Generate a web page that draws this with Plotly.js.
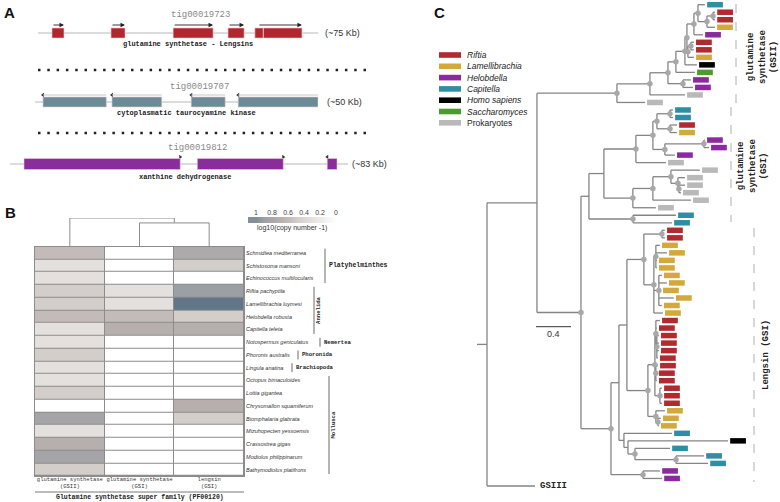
<!DOCTYPE html>
<html><head><meta charset="utf-8">
<script src="https://cdn.plot.ly/plotly-3.0.1.min.js"></script>
<style>html,body{margin:0;padding:0;background:#fff}#chart{width:780px;height:502px}</style>
</head><body><div id="chart"></div>
<script>
// ---------------- Panel A data (positions along contig, kb) ----------------
const contigNames = ['tig00019723', 'tig00019707', 'tig00019812'];
const contigGenes = ['glutamine synthetase - Lengsins', 'cytoplasmatic taurocyamine kinase', 'xanthine dehydrogenase'];
const contigLengthKb = [75, 50, 83];
const contigSizeLabels = ['(~75 Kb)', '(~50 Kb)', '(~83 Kb)'];
const exonStart1 = [3.75, 19.56, 36.2, 50.9, 58.1, 60.4];
const exonEnd1   = [6.96, 23.3, 46.9, 55.2, 60.3, 70.7];
const arrowStart1 = [3.75, 19.56, 36.2, 50.9, 58.9];
const arrowEnd1   = [6.96, 23.3, 46.9, 55.2, 70.7];
const exonStart2 = [1.41, 13.6, 27.6, 35.9];
const exonEnd2   = [12.6, 22.4, 33.6, 50.0];
const exonStart3 = [3.44, 46.0, 77.9];
const exonEnd3   = [41.8, 67.1, 80.3];

// ---------------- Panel B data ----------------
const species = ['Schmidtea mediterranea', 'Schistosoma mansoni', 'Echinococcus multilocularis',
  'Riftia pachyptila', 'Lamellibrachia luymesi', 'Helobdella robusta', 'Capitella teleta',
  'Notospermus geniculatus', 'Phoronis australis', 'Lingula anatina', 'Octopus bimaculoides',
  'Lottia gigantea', 'Chrysomallon squamiferum', 'Biomphalaria glabrata', 'Mizuhopecten yessoensis',
  'Crassostrea gigas', 'Modiolus philippinarum', 'Bathymodiolus platifrons'];
const hmColumns = ['glutamine synthetase<br>(GSII)', 'glutamine synthetase<br>(GSI)', 'lengsin<br>(GSI)'];
const valGSII    = [0.602, 0.301, 0.301, 0.477, 0.477, 0.602, 0.301, 0.301, 0.477, 0.301, 0.301, 0.477, 0, 0.845, 0.301, 0.699, 0.845, 0.477];
const valGSI     = [0, 0, 0, 0.301, 0.301, 0.602, 0.699, 0, 0, 0, 0, 0, 0, 0, 0, 0, 0, 0];
const valLengsin = [0.778, 0.477, 0, 0.903, 1.146, 0.477, 0.699, 0, 0, 0, 0, 0, 0.699, 0.477, 0, 0, 0, 0];
const colorMax = 1.146;
const colorbarTicks = [1, 0.8, 0.6, 0.4, 0.2, 0];
const dendroHeights = [0.83, 1.0];   // merge (GSI, lengsin), then with GSII
const phylumNames = ['Platyhelminthes', 'Annelida', 'Nemertea', 'Phoronida', 'Brachiopoda', 'Mollusca'];
const phylumFirst = [0, 3, 7, 8, 9, 10];
const phylumLast  = [2, 6, 7, 8, 9, 17];

// ---------------- Panel C data (Newick, * = supported node) ----------------
const legendNames = ['Riftia', 'Lamellibrachia', 'Helobdella', 'Capitella', 'Homo sapiens', 'Saccharomyces', 'Prokaryotes'];
const legendCodes = ['R', 'L', 'H', 'C', 'S', 'Y', 'P'];
const legendColors = ['#b02a30', '#d3a93b', '#8b2a9f', '#2f8ea3', '#000000', '#4e9a31', '#b9b9b9'];
const gsiiTree = "((((((((C:0.08,((R:0.023,R:0.023)*:0.069,L:0.091)*:0.103)*:0.046,H:0.103)*:0.08,((R:0.034,R:0.034)*:0.034,L:0.069)*:0.011)*:0.023,S:0.137)*:0.103,Y:0.217)*:0.091,(H:0.091,H:0.114)*:0.171)*:0.206,P:0.4)*:0.377,P:0.32)*";
const gsiTree = "((((((C:0.034,C:0.034)*:0.149,(R:0.08,L:0.08)*:0.149)*:0.046,((H:0.011,H:0.057)*:0.446,H:0.114)*:0.137)*:0.194,P:0.343)*:0.366,(((P:0.331,(P:0.08,(P:0.069,P:0.023)*:0.011)*:0.08)*:0.206,P:0.434)*:0.229,P:0.263)*:0.331):0.171,(C:0.491,C:0.446)*:0.503)";
const lengsinTree = "(((((R:0.034,R:0.034)*:0.206,((L:0.046,L:0.126,L:0.011,L:0.011)*:0.023,(L:0.034,L:0.091,L:0.023,L:0.171,L:0.034)*:0.057,L:0.103)*:0.114)*:0.194,(((R:0.046,R:0.011,(R:0.023,R:0.023,R:0.023,R:0.011)*:0.011)*:0.011,(R:0.023,R:0.011,R:0.011)*:0.011,(R:0.023,R:0.023,R:0.023)*:0.057)*:0.08,(L:0.103,(L:0.034,L:0.011)*:0.023)*:0.091)*:0.24):0.091,(C:0.549,(S:1.143,(C:0.4,(C:0.32,C:0.366)*:0.469)*:0.08):0.046):0.057):0.091,(H:0.194,H:0.217)*:0.366)*";
const backboneTree = "((#1:0.914,(#2:0.091,#3:0.343)*:0.503):0.571,G:0.549):0.114";
const scaleBarValue = 0.4;
const cladeLabels = ['glutamine<br>synthetase<br>(GSII)', 'glutamine<br>synthetase<br>(GSI)', 'Lengsin (GSI)'];

// ---------------- helpers ----------------
const W = 780, H = 502;
const P = x => x / W, Q = y => 1 - y / H;
const shapes = [], annotations = [], traces = [];
const MONO = 'Liberation Mono', SANS = 'Liberation Sans';
function txt(text, x, y, size, o) {
  o = o || {};
  annotations.push({text: text, x: P(x), y: Q(y), xref: 'paper', yref: 'paper', showarrow: false,
    font: {size: size, family: o.family || SANS, color: o.color || '#222'},
    xanchor: o.xa || 'center', yanchor: 'middle', textangle: o.angle || 0});
}
function pline(x0, y0, x1, y1, color, width, dash) {
  shapes.push({type: 'line', xref: 'paper', yref: 'paper', x0: P(x0), y0: Q(y0), x1: P(x1), y1: Q(y1),
    line: {color: color, width: width, dash: dash || 'solid'}});
}

// ---------------- Panel A ----------------
const trackAxes = ['x', 'x2', 'x3'];
const trackY = [33, 102, 164], exonTop = [28, 97, 158.5], exonBot = [38, 107, 169.5];
const exonColors = ['#b0282e', '#6b8b96', '#8a2c9c'];
const exonStarts = [exonStart1, exonStart2, exonStart3], exonEnds = [exonEnd1, exonEnd2, exonEnd3];
const nameXY = [[201, 15], [199, 87], [197, 148]], geneXY = [[188, 44], [186, 113], [185, 177]];
const kbX = [323, 325, 350];
for (let c = 0; c < 3; c++) {
  shapes.push({type: 'line', xref: trackAxes[c], yref: 'y', x0: 0, x1: contigLengthKb[c], y0: trackY[c], y1: trackY[c],
    line: {color: '#b8b8b8', width: 1}, layer: 'below'});
  exonStarts[c].forEach((s, i) => shapes.push({type: 'rect', xref: trackAxes[c], yref: 'y', x0: s, x1: exonEnds[c][i],
    y0: exonTop[c], y1: exonBot[c], fillcolor: exonColors[c], line: {width: 0.6, color: '#e6c9cc'}}));
  txt(contigNames[c], nameXY[c][0], nameXY[c][1], 9, {family: MONO, color: '#8a8a8a'});
  txt('<b>' + contigGenes[c] + '</b>', geneXY[c][0], geneXY[c][1], 7, {family: MONO, color: '#222'});
  txt(contigSizeLabels[c], kbX[c], trackY[c], 9, {xa: 'left', color: '#333'});
}
arrowStart1.forEach((s, i) => annotations.push({x: arrowEnd1[i], y: 25, ax: s, ay: 25, xref: 'x', yref: 'y', axref: 'x', ayref: 'y',
  text: '', showarrow: true, arrowhead: 2, arrowsize: 1, arrowwidth: 0.9, arrowcolor: '#222'}));
exonStart2.forEach((s, i) => shapes.push({type: 'line', xref: 'x2', yref: 'y', x0: s, x1: exonEnd2[i], y0: 95, y1: 95,
  line: {color: '#c8c8c8', width: 1.2}}));
traces.push({type: 'scatter', mode: 'markers', xaxis: 'x2', yaxis: 'y', x: exonStart2, y: exonStart2.map(() => 95),
  marker: {symbol: 'triangle-left', size: 4, color: '#333'}, hoverinfo: 'skip', showlegend: false});
traces.push({type: 'scatter', mode: 'markers', xaxis: 'x3', yaxis: 'y', x: [exonEnd3[0], exonEnd3[1], exonStart3[2]],
  y: [157, 157, 157], marker: {symbol: ['triangle-right', 'triangle-right', 'triangle-left'], size: 4, color: '#333'},
  hoverinfo: 'skip', showlegend: false});
pline(38, 70, 368, 70, '#222', 2.5, '2.5px,6.8px');
pline(38, 133, 368, 133, '#222', 2.5, '2.5px,6.8px');

// ---------------- Panel B ----------------
const hmScale = [[0, '#ffffff'], [0.263, '#e4e0de'], [0.416, '#d4cecb'], [0.525, '#c3bbb9'], [0.61, '#b7afad'],
  [0.737, '#a5a5a9'], [0.788, '#9ba0a5'], [1, '#627689']];
traces.push({type: 'heatmap', x: hmColumns, y: species, z: species.map((s, i) => [valGSII[i], valGSI[i], valLengsin[i]]),
  xaxis: 'x4', yaxis: 'y4', zmin: 0, zmax: colorMax, showscale: false, xgap: 1, ygap: 1, hoverinfo: 'skip',
  colorscale: hmScale});
shapes.push({type: 'rect', xref: 'x4 domain', yref: 'y4 domain', x0: 0, x1: 1, y0: 0, y1: 1, fillcolor: '#8c8c8c',
  line: {width: 0}, layer: 'below'});
// colour key
traces.push({type: 'heatmap', x: colorbarTicks, y: [0, 1], z: [colorbarTicks, colorbarTicks], xaxis: 'x7', yaxis: 'y7',
  zmin: 0, zmax: colorMax, zsmooth: 'best', showscale: false, hoverinfo: 'skip', colorscale: hmScale});
txt('log10(copy number -1)', 292, 228, 7, {color: '#333'});
// dendrogram
traces.push({type: 'scatter', mode: 'lines', xaxis: 'x5', yaxis: 'y5',
  x: [1, 1, 2, 2, null, 0, 0, 1.5, 1.5],
  y: [0, dendroHeights[0], dendroHeights[0], 0, null, 0, dendroHeights[1], dendroHeights[1], dendroHeights[0]],
  line: {color: '#8c8c8c', width: 1}, hoverinfo: 'skip', showlegend: false});
// phylum brackets
const phylumLineX = [325, 314, 320, 298, 292, 329];
phylumNames.forEach((n, i) => {
  shapes.push({type: 'line', xref: 'paper', yref: 'y4', x0: P(phylumLineX[i]), x1: P(phylumLineX[i]),
    y0: phylumFirst[i] - 0.35, y1: phylumLast[i] + 0.35, line: {color: '#444', width: 0.8}});
  const rot = (phylumLast[i] - phylumFirst[i]) > 2;
  annotations.push({text: '<b>' + n + '</b>', xref: 'paper', yref: 'y4', x: P(phylumLineX[i] + (rot ? 4.5 : 1.5)),
    y: (phylumFirst[i] + phylumLast[i]) / 2, showarrow: false, textangle: rot ? -90 : 0,
    xanchor: rot ? 'center' : 'left', yanchor: 'middle',
    font: {family: MONO, size: n === 'Platyhelminthes' ? 6.5 : 5.6, color: '#222'}});
});
pline(35, 492, 244, 492, '#555', 0.8);
txt('<b>Glutamine synthetase super family (PF00120)</b>', 139.5, 497.5, 6.5, {family: MONO});

// ---------------- Panel C: tree ----------------
function parseNewick(s) {
  let i = 0;
  function node() {
    const n = {children: [], label: '', len: 0};
    if (s[i] === '(') {
      i++; n.children.push(node());
      while (s[i] === ',') { i++; n.children.push(node()); }
      i++;
    }
    let lab = '';
    while (i < s.length && ':,()'.indexOf(s[i]) < 0) { lab += s[i]; i++; }
    n.label = lab;
    if (s[i] === ':') {
      i++; let num = '';
      while (i < s.length && ',()'.indexOf(s[i]) < 0) { num += s[i]; i++; }
      n.len = parseFloat(num);
    }
    return n;
  }
  return node();
}
const fullTree = backboneTree.replace('#1', gsiiTree).replace('#2', gsiTree).replace('#3', lengsinTree);
const root = parseNewick(fullTree);
let leafCounter = 0;
function layoutTree(n, x) {
  n.x = x;
  if (!n.children.length) { n.y = leafCounter++; return; }
  n.children.forEach(c => layoutTree(c, x + c.len));
  n.y = (n.children[0].y + n.children[n.children.length - 1].y) / 2;
}
layoutTree(root, 0);
const bx = [-root.len, 0, null], by = [root.y, root.y, null], dotX = [], dotY = [], leaves = [];
function collect(n) {
  if (!n.children.length) { leaves.push(n); return; }
  const f = n.children[0], l = n.children[n.children.length - 1];
  bx.push(n.x, n.x, null); by.push(f.y, l.y, null);
  n.children.forEach(c => { bx.push(n.x, c.x, null); by.push(c.y, c.y, null); collect(c); });
  if (n.label === '*') { dotX.push(n.x); dotY.push(n.y); }
}
collect(root);
traces.push({type: 'scatter', mode: 'lines', xaxis: 'x6', yaxis: 'y6', x: bx, y: by,
  line: {color: '#858585', width: 1.3}, hoverinfo: 'skip', showlegend: false});
const barGap = 0.025, barLen = 0.18;
legendCodes.forEach((code, k) => {
  const xs = [], ys = [];
  leaves.filter(l => l.label === code).forEach(l => { xs.push(l.x + barGap, l.x + barGap + barLen, null); ys.push(l.y, l.y, null); });
  traces.push({type: 'scatter', mode: 'lines', xaxis: 'x6', yaxis: 'y6', x: xs, y: ys,
    line: {color: legendColors[k], width: 5.5}, hoverinfo: 'skip', showlegend: false});
});
traces.push({type: 'scatter', mode: 'markers', xaxis: 'x6', yaxis: 'y6', x: dotX, y: dotY,
  marker: {color: '#a8a8a8', size: 5.5}, hoverinfo: 'skip', showlegend: false});
leaves.filter(l => l.label === 'G').forEach(l => annotations.push({text: '<b>GSIII</b>', xref: 'x6', yref: 'y6', x: l.x, y: l.y,
  xanchor: 'left', yanchor: 'middle', xshift: 3, showarrow: false, font: {family: MONO, size: 9, color: '#222'}}));
// scale bar
shapes.push({type: 'line', xref: 'x6', yref: 'paper', x0: 0.56, x1: 0.56 + scaleBarValue, y0: Q(326.7), y1: Q(326.7),
  line: {color: '#333', width: 1}});
annotations.push({text: String(scaleBarValue), xref: 'x6', yref: 'paper', x: 0.56 + scaleBarValue / 2, y: Q(334),
  showarrow: false, font: {family: SANS, size: 9, color: '#333'}, yanchor: 'middle'});
// legend
legendNames.forEach((n, i) => {
  const y = 55 + i * 11.3;
  shapes.push({type: 'rect', xref: 'paper', yref: 'paper', x0: P(439), x1: P(461), y0: Q(y - 2.8), y1: Q(y + 2.8),
    fillcolor: legendColors[i], line: {width: 0}});
  txt(n === 'Prokaryotes' ? n : '<i>' + n + '</i>', 465, y, 8.5, {xa: 'left', color: '#222'});
});
// clade brackets
pline(736, 4, 736, 104, '#b0b0b0', 1, 'dash');
pline(731, 107, 731, 222, '#b0b0b0', 1, 'dash');
pline(754, 228, 754, 482, '#b0b0b0', 1, 'dash');
txt('<b>' + cladeLabels[0] + '</b>', 762, 57, 9, {family: MONO, angle: -90});
txt('<b>' + cladeLabels[1] + '</b>', 753, 166, 9, {family: MONO, angle: -90});
txt('<b>' + cladeLabels[2] + '</b>', 766, 355, 9, {family: MONO, angle: -90});

// panel letters
txt('<b>A</b>', 9, 13, 15, {color: '#111'});
txt('<b>B</b>', 10.5, 212, 15, {color: '#111'});
txt('<b>C</b>', 439, 12.5, 15, {color: '#111'});

// ---------------- layout ----------------
const hid = {showgrid: false, zeroline: false, showticklabels: false, ticks: '', showline: false, fixedrange: true, automargin: false};
const layout = {
  width: W, height: H, margin: {l: 0, r: 0, t: 0, b: 0}, paper_bgcolor: '#fff', plot_bgcolor: 'rgba(0,0,0,0)',
  showlegend: false, font: {family: SANS},
  xaxis:  Object.assign({}, hid, {domain: [P(38), P(318)], range: [0, contigLengthKb[0]], anchor: 'y'}),
  xaxis2: Object.assign({}, hid, {domain: [P(35), P(318)], range: [0, contigLengthKb[1]], anchor: 'y'}),
  xaxis3: Object.assign({}, hid, {domain: [P(10), P(348)], range: [0, contigLengthKb[2]], anchor: 'y'}),
  yaxis:  Object.assign({}, hid, {domain: [0, 1], range: [H, 0], anchor: 'x'}),
  xaxis4: Object.assign({}, hid, {domain: [P(35), P(244)], anchor: 'y4', showticklabels: true, side: 'bottom',
    ticklabelstandoff: -3,
    tickfont: {family: MONO, size: 5.5, color: '#333'}, showline: true, mirror: true, linecolor: '#8c8c8c', linewidth: 1}),
  yaxis4: Object.assign({}, hid, {domain: [Q(476), Q(246.7)], anchor: 'x4', range: [17.5, -0.5], showticklabels: true, side: 'right',
    tickfont: {family: SANS, size: 5.5, color: '#333', style: 'italic'}, showline: true, mirror: true, linecolor: '#8c8c8c', linewidth: 1}),
  xaxis5: Object.assign({}, hid, {domain: [P(35), P(244)], range: [-0.5, 2.5], anchor: 'y5'}),
  yaxis5: Object.assign({}, hid, {domain: [Q(247), Q(218)], range: [0, 1], anchor: 'x5'}),
  xaxis6: Object.assign({}, hid, {domain: [P(430), 1], range: [-0.6514, 3.3486], anchor: 'y6'}),
  yaxis6: Object.assign({}, hid, {domain: [0, 1], range: [66.13, -0.625], anchor: 'x6'}),
  xaxis7: Object.assign({}, hid, {domain: [P(248), P(338)], range: [1.1, -0.025], anchor: 'y7', side: 'top',
    showticklabels: true, tickvals: colorbarTicks, ticktext: colorbarTicks.map(String), tickfont: {family: SANS, size: 7, color: '#444'}}),
  yaxis7: Object.assign({}, hid, {domain: [Q(223), Q(217)], range: [-0.5, 1.5], anchor: 'x7'}),
  shapes: shapes, annotations: annotations
};
Plotly.newPlot('chart', traces, layout, {displayModeBar: false, staticPlot: true});
</script></body></html>
